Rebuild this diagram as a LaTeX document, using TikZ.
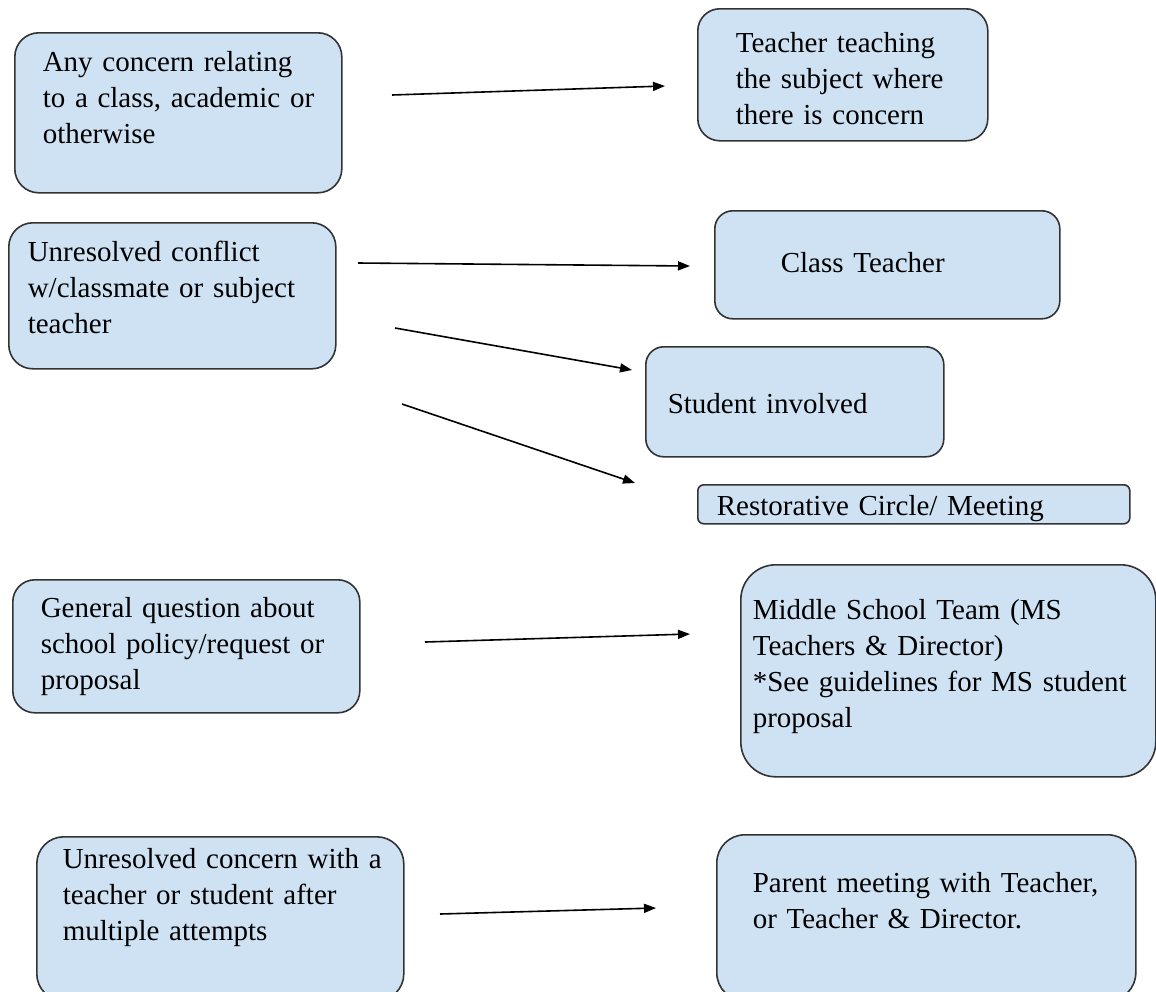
\documentclass[tikz,border=0pt]{standalone}
\usepackage{fontspec}
\setmainfont{Liberation Serif}
\usetikzlibrary{arrows.meta}

\definecolor{boxblue}{HTML}{CFE2F3}
\definecolor{boxline}{HTML}{333333}

\begin{document}
\begin{tikzpicture}[x=1pt,y=-1pt,
    box/.style={draw=boxline,fill=boxblue,line width=1.6pt,anchor=north west,
      align=left,inner sep=0pt,font=\fontsize{29}{36}\selectfont},
    every edge/.style={draw,line width=1.6pt,-{Triangle[length=12pt,width=9pt]}}]
      \useasboundingbox (0,0) rectangle (1156,991);
      \clip (0,0) rectangle (1156,991);

      % left column
      \node[box,text width=327pt,text height=39pt,text depth=121pt,rounded corners=24pt]
        (concern) at (14,32) {\leftskip=28pt Any concern relating\\to a class, academic or\\otherwise\par};
      \node[box,text width=327pt,text height=39pt,text depth=107pt,rounded corners=24pt]
        (conflict) at (8,222) {\leftskip=19pt Unresolved conflict\\w/classmate or subject\\teacher\par};
      \node[box,text width=347pt,text height=38pt,text depth=95pt,rounded corners=22pt]
        (question) at (12,579) {\leftskip=28pt General question about\\school policy/request or\\proposal\par};
      \node[box,text width=367pt,text height=32pt,text depth=132pt,rounded corners=27pt]
        (unres) at (36,836) {\leftskip=26pt Unresolved concern with a\\teacher or student after\\multiple attempts\par};

      % right column
      \node[box,text width=290pt,text height=44pt,text depth=88pt,rounded corners=22pt]
        (subjteacher) at (697,8) {\leftskip=38pt Teacher teaching\\the subject where\\there is concern\par};
      \node[box,text width=345pt,text height=62pt,text depth=46pt,rounded corners=18pt]
        (classteacher) at (714,210) {\leftskip=66pt Class Teacher\par};
      \node[box,text width=298pt,text height=67pt,text depth=43pt,rounded corners=18pt]
        (student) at (645,346) {\leftskip=22pt Student involved\par};
      \node[box,text width=432pt,text height=31pt,text depth=8pt,rounded corners=6pt]
        (circle) at (697,484) {\leftskip=19pt Restorative Circle/ Meeting\par};
      \node[box,text width=415pt,text height=55pt,text depth=157pt,rounded corners=35pt]
        (msteam) at (740,564) {\leftskip=12pt Middle School Team (MS\\Teachers \& Director)\\{}*See guidelines for MS student\\proposal\par};
      \node[box,text width=419pt,text height=58pt,text depth=108pt,rounded corners=28pt]
        (parent) at (716,834) {\leftskip=36pt Parent meeting with Teacher,\\or Teacher \& Director.\par};

      % arrow ends
      \coordinate (c1) at (392,95);  \coordinate (t1) at (665,86);
      \coordinate (c2) at (358,263); \coordinate (t2) at (690,266);
      \coordinate (c3) at (395,328); \coordinate (t3) at (632,370);
      \coordinate (c4) at (402,404); \coordinate (t4) at (635,483);
      \coordinate (c5) at (425,642); \coordinate (t5) at (690,634);
      \coordinate (c6) at (440,914); \coordinate (t6) at (656,908);

      \path
        (c1) edge (t1)
        (c2) edge (t2)
        (c3) edge (t3)
        (c4) edge (t4)
        (c5) edge (t5)
        (c6) edge (t6);
    \end{tikzpicture}
\end{document}
